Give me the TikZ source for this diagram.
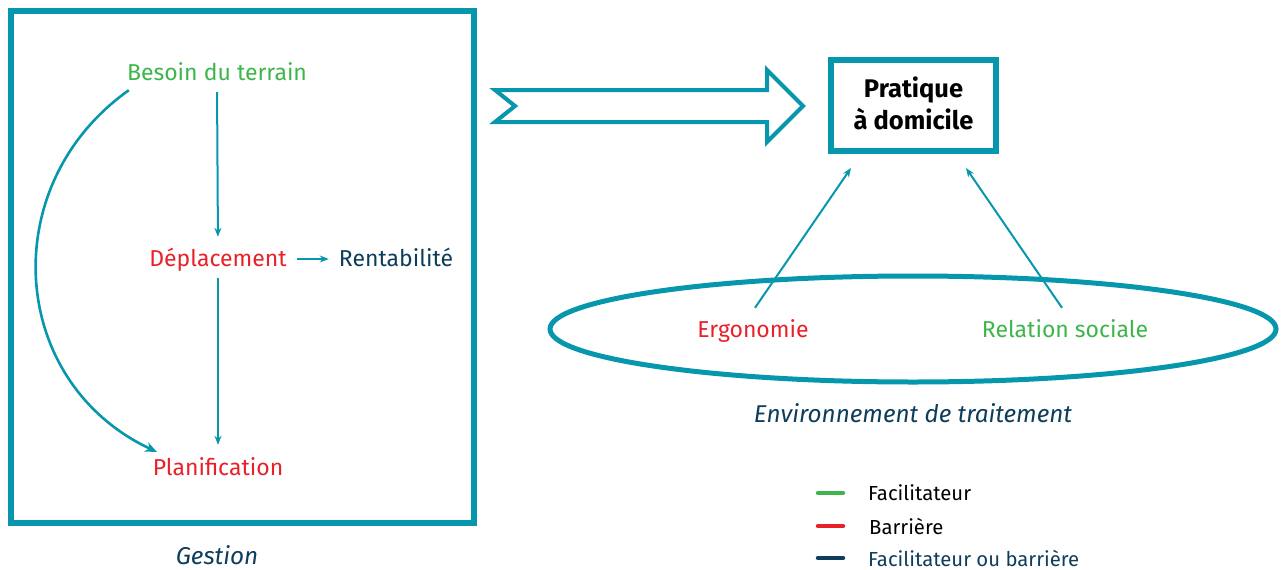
\documentclass[tikz,border=0pt]{standalone}
\usepackage{fontspec}
\setmainfont{Fira Sans}
\usetikzlibrary{arrows.meta,shapes.geometric}
\definecolor{teal}{HTML}{0797AD}
\definecolor{fgreen}{HTML}{3DB54A}
\definecolor{fred}{HTML}{E8202A}
\definecolor{navy}{HTML}{0E3D5C}
\tikzset{
  lbl/.style={inner sep=0pt, anchor=base, text height=18pt, text depth=4pt, font=\fontsize{23}{27}\selectfont},
  ital/.style={inner sep=0pt, anchor=base, font=\fontsize{24.3}{28}\selectfont\itshape, text=navy},
  conn/.style={draw=teal, line width=2pt, -{Stealth[length=9pt,width=7pt]}},
  thick conn/.style={draw=teal, line width=2.6pt, -{Stealth[length=12pt,width=10pt]}},
  frame/.style={draw=teal, line width=5.5pt},
  legline/.style={line width=4.5pt, line cap=round},
  legtxt/.style={inner sep=0pt, anchor=west, font=\fontsize{20.3}{24}\selectfont}
}
\begin{document}
\begin{tikzpicture}[x=1pt,y=-1pt]
\useasboundingbox (0,0) rectangle (1285,570);
% left frame
\draw[frame] (11,11) rectangle (474,523);
\node[lbl, text=fgreen] (besoin) at (217,80) {Besoin du terrain};
\node[lbl, text=fred] (depl) at (218,266) {Déplacement};
\node[lbl, text=navy] (rent) at (396,266) {Rentabilité};
\node[lbl, text=fred] (plan) at (218,475) {Planification};
\node[ital] (gestion) at (217,564) {Gestion};
\draw[conn, shorten <=8pt, shorten >=11pt] (besoin.south) -- (depl.north);
\draw[conn, shorten <=8pt, shorten >=12pt] (depl.south) -- (plan.north);
\draw[conn, shorten <=10pt, shorten >=10pt] (depl.east) -- (rent.west);
\draw[thick conn] (besoin.south west) ++(2,6) coordinate (cs)
  .. controls (-5,185) and (8,382) .. (157,452) coordinate (ce);
% big hollow arrow
\draw[draw=teal, line width=4pt, line join=miter] (495,90) -- (767,90) -- (767,70) -- (803,106) -- (767,142) -- (767,122) -- (495,122) -- (515,106) -- cycle;
% pratique box
\node[draw=teal, line width=5.5pt, minimum width=165pt, minimum height=91pt, inner sep=0pt] (prat) at (913.5,105.5) {};
\node[align=center, inner sep=0pt, font=\fontsize{25.5}{32}\selectfont\bfseries] (pratxt) at (913.5,103.5) {Pratique\\à domicile};
% ellipse
\node[draw=teal, line width=5pt, ellipse, minimum width=726pt, minimum height=106pt, inner sep=0pt] (env) at (913,329) {};
\node[lbl, text=fred] (ergo) at (753,337) {Ergonomie};
\node[lbl, text=fgreen] (rel) at (1065,337) {Relation sociale};
\node[ital] (envt) at (913,422) {Environnement de traitement};
\draw[conn] (ergo.north) ++(2,-11) -- (851,168);
\draw[conn] (rel.north) ++(-3,-11) -- (966,168);
% legend
\draw[legline, draw=fgreen] (818,493) -- (843,493);
\draw[legline, draw=fred] (818,526) -- (843,526);
\draw[legline, draw=navy] (818,558) -- (843,558);
\node[legtxt] (l1) at (868,493) {Facilitateur};
\node[legtxt] (l2) at (869,526) {Barrière};
\node[legtxt, text=navy] (l3) at (868,558) {Facilitateur ou barrière};
\end{tikzpicture}
\end{document}
